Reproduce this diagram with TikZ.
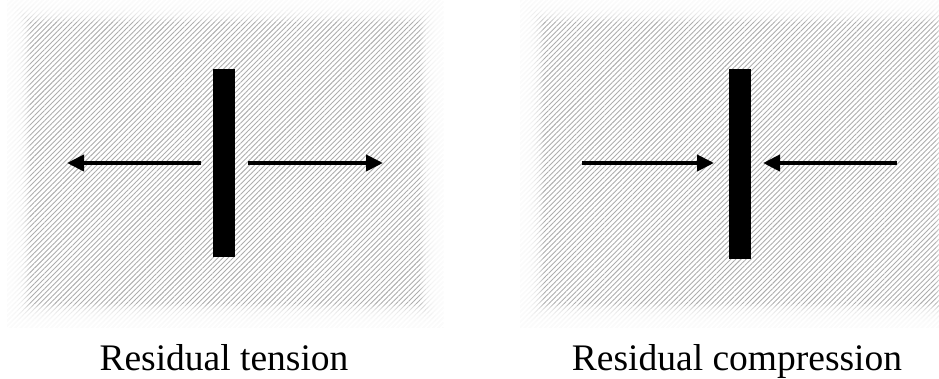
\documentclass[tikz,border=0pt]{standalone}
\usepackage{fontspec}
\setmainfont{Liberation Serif}
\usetikzlibrary{arrows.meta,patterns.meta}
\tikzset{
  hatch/.style={pattern={Lines[angle=45,distance=3.6pt,line width=0.9pt]},pattern color=black!32,draw=none},
  softedge/.style={fill=white,fill opacity=0.22,draw=none,even odd rule},
  barbox/.style={draw=none,fill=black,inner sep=0pt,minimum width=22pt},
  force/.style={line width=4pt,-{Triangle[length=17pt,width=16pt]}},
  caption/.style={font=\fontsize{37.5}{40}\selectfont,anchor=base,inner sep=0pt}
}
\begin{document}
\begin{tikzpicture}[x=1pt,y=-1pt]
\useasboundingbox (0,0) rectangle (939,379);
% hatched backgrounds
\pattern[hatch] (7,-1) rectangle (443,327);
\pattern[hatch] (520,-1) rectangle (960,327);
% soft edges
\foreach \k in {1,...,16}{
  \fill[softedge] (4,-4) rectangle (446,330) (6+1.5*\k,-2+1.5*\k) rectangle (444-1.5*\k,328-1.5*\k);
  \fill[softedge] (517,-4) rectangle (963,330) (519+1.5*\k,-2+1.5*\k) rectangle (960-1.5*\k,328-1.5*\k);
}
% left panel: residual tension
\node[barbox,minimum height=188pt] (barL) at (224,163) {};
\coordinate (lls) at (201,163);
\coordinate (llt) at (67,163);
\coordinate (lrs) at (248,163);
\coordinate (lrt) at (383,163);
\draw[force] (lls) -- (llt);
\draw[force] (lrs) -- (lrt);
\node[caption] (capL) at (224,370) {Residual tension};
% right panel: residual compression
\node[barbox,minimum height=190pt] (barR) at (739.5,164) {};
\coordinate (rls) at (582,163);
\coordinate (rlt) at (714,163);
\coordinate (rrs) at (897,163);
\coordinate (rrt) at (763,163);
\draw[force] (rls) -- (rlt);
\draw[force] (rrs) -- (rrt);
\node[caption] (capR) at (737,370) {Residual compression};
\end{tikzpicture}
\end{document}
